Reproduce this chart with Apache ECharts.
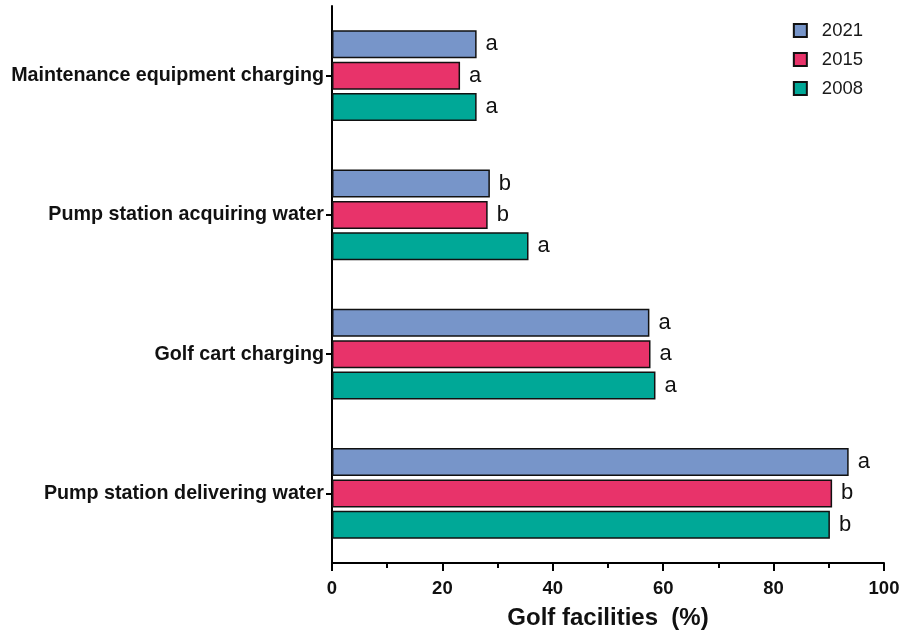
<!DOCTYPE html>
<html>
<head>
<meta charset="utf-8">
<script src="https://cdn.jsdelivr.net/npm/echarts@6/dist/echarts.min.js"></script>
<style>
  html, body { margin: 0; padding: 0; background: #fff; }
  #chart { width: 901px; height: 631px; }
</style>
</head>
<body>
<div id="chart"></div>
<script>
// Facility categories, listed top to bottom
const categories = [
  'Maintenance equipment charging',
  'Pump station acquiring water',
  'Golf cart charging',
  'Pump station delivering water'
];
const years = ['2021', '2015', '2008'];

// Share of golf facilities (%) per year
const values2021 = [26.2, 28.6, 57.5, 93.6];
const values2015 = [23.2, 28.2, 57.7, 90.6];
const values2008 = [26.2, 35.6, 58.6, 90.2];

// Significance letters shown beside each bar
const letters2021 = ['a', 'b', 'a', 'a'];
const letters2015 = ['a', 'b', 'a', 'b'];
const letters2008 = ['a', 'a', 'a', 'b'];

// x-axis ticks
const xMin = 0, xMax = 100, xStep = 20;

const colors = ['#7795C9', '#E8336A', '#00A897'];
const seriesValues = [values2021, values2015, values2008];
const seriesLetters = [letters2021, letters2015, letters2008];

const FONT = '"Liberation Sans", Arial, sans-serif';

const chart = echarts.init(document.getElementById('chart'), null, { renderer: 'canvas' });

chart.setOption({
  animation: false,
  textStyle: { fontFamily: FONT },
  legend: {
    orient: 'vertical',
    right: 33,
    top: 16,
    itemWidth: 13,
    itemHeight: 13,
    itemGap: 10,
    icon: 'rect',
    textStyle: { fontSize: 18.5, color: '#1a1a1a', fontFamily: FONT, padding: [0, 0, 0, 10] },
    data: years
  },
  grid: { left: 332, right: 17, top: 6, bottom: 68, containLabel: false, outerBoundsMode: 'none' },
  xAxis: {
    type: 'value',
    min: xMin,
    max: xMax,
    interval: xStep,
    name: 'Golf facilities  (%)',
    nameLocation: 'middle',
    nameGap: 43,
    nameTextStyle: { fontSize: 24, fontWeight: 'bold', color: '#111', fontFamily: FONT },
    axisLine: { show: true, lineStyle: { color: '#000', width: 2 } },
    axisTick: { show: true, length: 8, lineStyle: { color: '#000', width: 2 } },
    minorTick: { show: true, splitNumber: 2, length: 5, lineStyle: { color: '#000', width: 2 } },
    axisLabel: { fontSize: 18.5, fontWeight: 'bold', color: '#111', margin: 16, fontFamily: FONT },
    splitLine: { show: false }
  },
  yAxis: {
    type: 'category',
    inverse: true,
    data: categories,
    axisLine: { show: true, lineStyle: { color: '#000', width: 2 } },
    axisTick: { show: true, alignWithLabel: true, length: 6, lineStyle: { color: '#000', width: 2 } },
    axisLabel: { fontSize: 19.7, fontWeight: 'bold', color: '#111', margin: 8, fontFamily: FONT }
  },
  series: years.map((y, i) => ({
    name: y,
    type: 'bar',
    data: seriesValues[i],
    barWidth: 28,
    barGap: '12%',
    itemStyle: { color: colors[i], borderColor: '#111', borderWidth: 1.5 },
    label: {
      show: true,
      position: 'right',
      distance: 9,
      fontSize: 22,
      color: '#111',
      fontFamily: FONT,
      formatter: p => seriesLetters[i][p.dataIndex]
    }
  }))
});
</script>
</body>
</html>
